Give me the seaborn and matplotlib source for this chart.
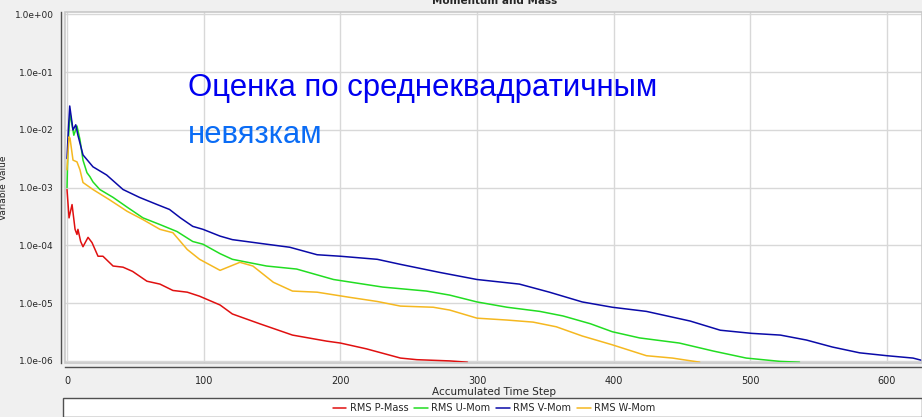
import matplotlib
matplotlib.use("Agg")
import matplotlib.pyplot as plt
import matplotlib.ticker as mticker
from matplotlib.patches import Rectangle
import seaborn as sns
import pandas as pd

# ---------------- data ----------------
p_mass_steps = [0, 1.5, 3.7, 5.9, 7.3, 8, 10, 11.7, 15.4, 18.3, 22.7, 26.3, 33.7, 41, 48, 58.5, 68,
                77.5, 88, 97, 112, 121, 141, 165, 190, 200, 219, 244, 256, 280, 293]
p_mass_vals = [9.3e-4, 3.0e-4, 5.1e-4, 1.9e-4, 1.55e-4, 1.9e-4, 1.17e-4, 9.5e-5, 1.38e-4, 1.12e-4,
               6.5e-5, 6.5e-5, 4.4e-5, 4.2e-5, 3.55e-5, 2.4e-5, 2.14e-5, 1.66e-5, 1.55e-5, 1.32e-5,
               9.3e-6, 6.5e-6, 4.4e-6, 2.8e-6, 2.2e-6, 2.04e-6, 1.62e-6, 1.12e-6, 1.05e-6, 1.0e-6, 9.5e-7]

u_mom_steps = [0, 0.7, 2.2, 5, 7.3, 9.5, 11.7, 14.6, 16.8, 19, 24, 33.7, 44, 55.6, 68, 80.5, 92, 99.5,
               112, 121, 146, 168, 195, 231, 263, 280, 300, 322, 346, 363, 383, 399, 419, 448, 473,
               497, 522, 536]
u_mom_vals = [1.0e-3, 5.0e-3, 1.95e-2, 8.1e-3, 1.17e-2, 6.8e-3, 3.0e-3, 1.82e-3, 1.55e-3, 1.26e-3,
              9.3e-4, 6.8e-4, 4.6e-4, 3.0e-4, 2.3e-4, 1.74e-4, 1.17e-4, 1.05e-4, 7.2e-5, 5.75e-5,
              4.4e-5, 3.9e-5, 2.57e-5, 1.9e-5, 1.62e-5, 1.38e-5, 1.05e-5, 8.5e-6, 7.2e-6, 6.0e-6,
              4.4e-6, 3.2e-6, 2.5e-6, 2.04e-6, 1.48e-6, 1.12e-6, 9.8e-7, 9.5e-7]

v_mom_steps = [0, 1, 2, 4.4, 6.4, 8, 11.7, 19, 29, 41, 53, 66, 75, 83, 92, 99.5, 112, 121, 146, 163,
               183, 200, 227, 244, 273, 300, 331, 353, 377, 399, 424, 456, 478, 501, 522, 541, 560,
               580, 600, 619, 627]
v_mom_vals = [3.2e-3, 1.0e-2, 2.6e-2, 1.0e-2, 1.23e-2, 8.1e-3, 3.7e-3, 2.3e-3, 1.66e-3, 9.3e-4,
              6.8e-4, 5.1e-4, 4.2e-4, 3.0e-4, 2.14e-4, 1.9e-4, 1.45e-4, 1.26e-4, 1.05e-4, 9.3e-5,
              6.9e-5, 6.5e-5, 5.75e-5, 4.7e-5, 3.4e-5, 2.57e-5, 2.14e-5, 1.55e-5, 1.05e-5, 8.5e-6,
              7.2e-6, 4.9e-6, 3.4e-6, 3.0e-6, 2.8e-6, 2.3e-6, 1.74e-6, 1.38e-6, 1.23e-6, 1.12e-6, 1.0e-6]

w_mom_steps = [0, 1.5, 2.2, 4.4, 7.3, 9.5, 11.7, 19, 31, 44, 55.6, 68, 77.5, 88, 97, 112, 126.5, 136,
               151, 165, 183, 207, 227, 244, 268, 280, 300, 322, 341, 358, 377, 399, 424, 443, 463]
w_mom_vals = [2.04e-3, 7.6e-3, 7.2e-3, 3.0e-3, 2.8e-3, 2.04e-3, 1.23e-3, 9.3e-4, 6.2e-4, 3.9e-4,
              2.8e-4, 1.9e-4, 1.66e-4, 8.5e-5, 5.75e-5, 3.7e-5, 5.1e-5, 4.4e-5, 2.3e-5, 1.62e-5,
              1.55e-5, 1.26e-5, 1.07e-5, 8.9e-6, 8.5e-6, 7.6e-6, 5.5e-6, 5.1e-6, 4.7e-6, 3.9e-6,
              2.7e-6, 1.9e-6, 1.23e-6, 1.12e-6, 9.5e-7]

series_names = ["RMS P-Mass", "RMS U-Mom", "RMS V-Mom", "RMS W-Mom"]
series_colors = ["#E01010", "#22DD22", "#0A0AA8", "#F5B820"]
x_ticks = [0, 100, 200, 300, 400, 500, 600]
y_ticks = [1e-6, 1e-5, 1e-4, 1e-3, 1e-2, 1e-1, 1e0]
y_tick_labels = ["1.0e-06", "1.0e-05", "1.0e-04", "1.0e-03", "1.0e-02", "1.0e-01", "1.0e+00"]

frames = []
for name, xs, ys in zip(series_names,
                        [p_mass_steps, u_mom_steps, v_mom_steps, w_mom_steps],
                        [p_mass_vals, u_mom_vals, v_mom_vals, w_mom_vals]):
    frames.append(pd.DataFrame({"step": xs, "value": ys, "series": name}))
df = pd.concat(frames, ignore_index=True)

# ---------------- figure ----------------
sns.set_style("white")
plt.rcParams["font.family"] = ["DejaVu Sans"]

W, H = 922, 417
fig = plt.figure(figsize=(W / 100, H / 100), dpi=100, facecolor="#F0F0F0")
ax = fig.add_axes([65 / W, 1 - 363 / H, 1 - 65 / W, (363 - 12) / H])
ax.set_facecolor("white")

sns.lineplot(data=df, x="step", y="value", hue="series", hue_order=series_names,
             palette=dict(zip(series_names, series_colors)), estimator=None, sort=False,
             linewidth=1.1, ax=ax, legend=False)

ax.set_yscale("log")
ax.set_xlim(-1.46, 625.6)
ax.set_ylim(9.2e-7, 1.104)

ax.set_yticks(y_ticks)
ax.set_yticklabels(y_tick_labels)
ax.yaxis.set_minor_locator(mticker.LogLocator(base=10, subs=[2, 4, 6, 8], numticks=20))
ax.yaxis.set_minor_formatter(mticker.NullFormatter())
ax.set_xticks(x_ticks)
ax.xaxis.set_minor_locator(mticker.MultipleLocator(20))

ax.grid(True, which="major", color="#D8D8D8", linewidth=1.0)
ax.set_axisbelow(True)

for s in ["top", "right"]:
    ax.spines[s].set_visible(False)
for s in ["left", "bottom"]:
    ax.spines[s].set_position(("outward", 3))
    ax.spines[s].set_color("#505050")
    ax.spines[s].set_linewidth(1.0)
ax.add_patch(Rectangle((0, 0), 1, 1, transform=ax.transAxes, fill=False,
                       edgecolor="#C8C8C8", linewidth=1.2, clip_on=False, zorder=5))

ax.tick_params(axis="y", which="major", direction="out", length=4, width=1,
               color="#505050", labelsize=6.5, pad=1)
ax.tick_params(axis="x", which="major", direction="out", length=4, width=1,
               color="#505050", labelsize=7, pad=2)
ax.tick_params(axis="both", which="minor", direction="out", length=2.5, width=1,
               color="#505050")

ax.set_xlabel("Accumulated Time Step", fontsize=7.5, labelpad=1)
ax.set_ylabel("Variable Value", fontsize=6.5)
ax.yaxis.set_label_coords((8 - 65) / (W - 65), 0.5)

# title (mostly cut off at the top, as in the reference)
fig.text(495 / W, 1 - 4 / H, "Momentum and Mass", ha="center", va="baseline",
         fontsize=7.5, fontweight="bold")

# overlay annotation
fig.text(188 / W, 1 - 88 / H, "Оценка по среднеквадратичным", ha="left", va="center",
         fontsize=22.4, color="#0000F0", family=["Liberation Sans", "DejaVu Sans"])
fig.text(188 / W, 1 - 135 / H, "невязкам", ha="left", va="center",
         fontsize=22.4, color="#0A6CF5", family=["Liberation Sans", "DejaVu Sans"])

# legend box
fig.patches.append(Rectangle((63 / W, 1 - 417 / H), 1 - 63 / W, (417 - 398) / H,
                             transform=fig.transFigure, facecolor="white",
                             edgecolor="#505050", linewidth=1.0, zorder=1))
handles = [plt.Line2D([], [], color=c, linewidth=1.1) for c in series_colors]
fig.legend(handles, series_names, loc="center", bbox_to_anchor=(494 / W, 1 - 408 / H),
           ncol=4, frameon=False, fontsize=7, handlelength=1.4, handletextpad=0.35,
           columnspacing=0.6, borderpad=0)

fig.savefig("out.png", dpi=100, facecolor=fig.get_facecolor())
